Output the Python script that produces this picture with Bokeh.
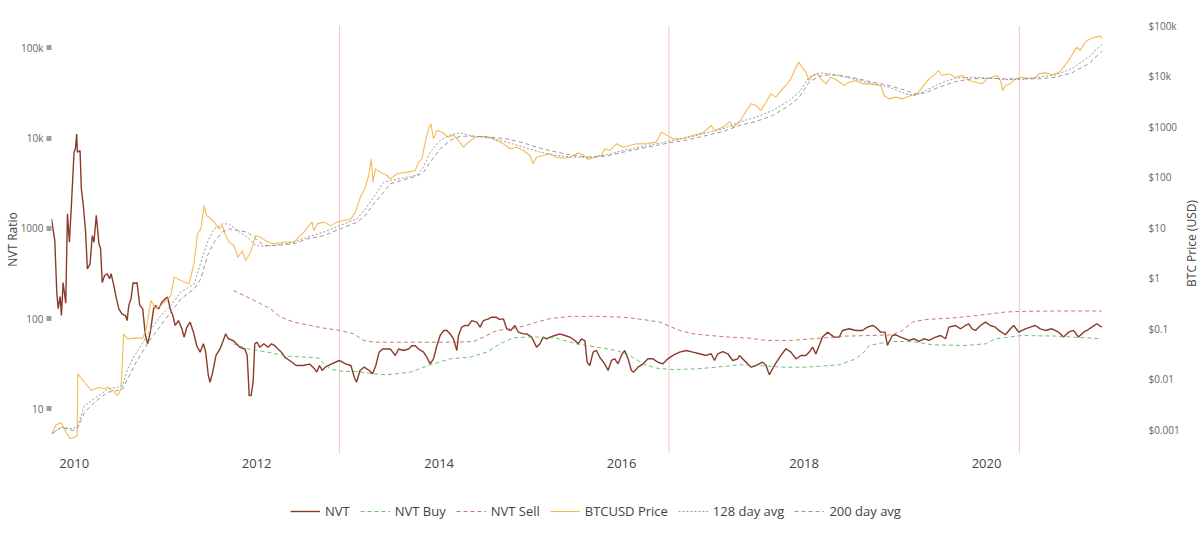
import math
from bokeh.plotting import figure
from bokeh.layouts import column, row
from bokeh.models import (LogAxis, LogScale, Range1d, FixedTicker, Legend, LegendItem, Span, Label)
from bokeh.embed import file_html
from bokeh.resources import INLINE

# ---------------- data (decimal years) ----------------
nvt_year = [2009.751, 2009.787, 2009.809, 2009.824, 2009.846, 2009.860, 2009.878, 2009.907, 2009.926, 2009.947,
            2009.969, 2009.998, 2010.013, 2010.027, 2010.035, 2010.064, 2010.078, 2010.100, 2010.125, 2010.144,
            2010.173, 2010.198, 2010.216, 2010.242, 2010.271, 2010.289, 2010.307, 2010.333, 2010.362, 2010.387,
            2010.405, 2010.427, 2010.463, 2010.489, 2010.525, 2010.562, 2010.580, 2010.598, 2010.623, 2010.645,
            2010.671, 2010.689, 2010.718, 2010.751, 2010.780, 2010.805, 2010.834, 2010.870, 2010.888, 2010.925,
            2010.961, 2010.998, 2011.023, 2011.052, 2011.081, 2011.107, 2011.143, 2011.180, 2011.205, 2011.234,
            2011.271, 2011.307, 2011.343, 2011.380, 2011.416, 2011.441, 2011.470, 2011.489, 2011.518, 2011.554,
            2011.598, 2011.634, 2011.660, 2011.689, 2011.743, 2011.816, 2011.870, 2011.896, 2011.918, 2011.939,
            2011.961, 2011.979, 2012.005, 2012.034, 2012.078, 2012.125, 2012.161, 2012.198, 2012.234, 2012.270,
            2012.307, 2012.361, 2012.434, 2012.507, 2012.579, 2012.634, 2012.659, 2012.688, 2012.718, 2012.754,
            2012.815, 2012.906, 2012.979, 2013.033, 2013.070, 2013.095, 2013.132, 2013.179, 2013.233, 2013.270,
            2013.306, 2013.342, 2013.379,
            2013.465, 2013.519, 2013.556, 2013.610, 2013.665, 2013.701, 2013.738, 2013.774, 2013.829, 2013.865,
            2013.902, 2013.938, 2013.975, 2014.011, 2014.048, 2014.084, 2014.121, 2014.157, 2014.194, 2014.212,
            2014.248, 2014.285, 2014.321, 2014.358, 2014.412, 2014.449, 2014.485, 2014.540, 2014.576, 2014.624,
            2014.660, 2014.704, 2014.740, 2014.784, 2014.831, 2014.868, 2014.923, 2014.959, 2015.014, 2015.068,
            2015.105, 2015.141, 2015.177, 2015.214, 2015.269, 2015.323, 2015.378, 2015.433, 2015.487, 2015.524,
            2015.560, 2015.597, 2015.622, 2015.651, 2015.688, 2015.724, 2015.760, 2015.815, 2015.852, 2015.888,
            2015.925, 2015.961, 2015.997, 2016.034, 2016.070, 2016.107, 2016.132, 2016.180, 2016.235, 2016.289,
            2016.344, 2016.398, 2016.453, 2016.507, 2016.562, 2016.635, 2016.708, 2016.781, 2016.854, 2016.927,
            2016.982, 2017.018, 2017.054, 2017.109, 2017.164, 2017.218, 2017.273,
            2017.291, 2017.419, 2017.474, 2017.546, 2017.583, 2017.619, 2017.674, 2017.747, 2017.801, 2017.856,
            2017.911, 2017.965, 2018.020, 2018.056, 2018.093, 2018.129, 2018.166, 2018.202, 2018.257, 2018.330,
            2018.385, 2018.421, 2018.494, 2018.567, 2018.640, 2018.694, 2018.749, 2018.785, 2018.840, 2018.887,
            2018.913, 2018.968, 2019.004, 2019.059, 2019.150, 2019.205, 2019.259, 2019.314, 2019.368, 2019.441,
            2019.496, 2019.551, 2019.587, 2019.660, 2019.715, 2019.769, 2019.806, 2019.842, 2019.879, 2019.933,
            2019.988, 2020.042, 2020.097, 2020.134, 2020.207, 2020.261, 2020.298, 2020.352, 2020.425, 2020.480,
            2020.534, 2020.589, 2020.644, 2020.717, 2020.790, 2020.844, 2020.899, 2020.954, 2021.009, 2021.063,
            2021.100, 2021.154, 2021.209, 2021.263]
nvt_value = [1270, 730, 195, 129, 175, 108, 250, 148, 1450, 700,
             1790, 6970, 7600, 11100, 6970, 7250, 2750, 1790, 906, 355,
             400, 830, 700, 1390, 675, 593, 250, 300, 313, 276,
             313, 250, 166, 128, 112, 108, 95, 140, 166, 250,
             245, 250, 140, 128, 65, 52.5, 70.6, 128, 140, 128,
             152, 166, 173, 128, 108, 83.8, 95, 77, 62, 80,
             91, 70.6, 50, 42.4, 52.5, 42.4, 23.4, 19.7, 25.5, 39,
             46, 57, 67.9, 59.7, 57, 48, 46, 39, 14, 14,
             19.7, 52.5, 54.7, 48, 52.5, 48, 52.5, 50, 46, 42.4,
             37.3, 34.3, 30.2, 30.2, 31.3, 27.7, 25.5, 30.2, 26.6, 29,
             31.3, 34.3, 31.3, 30.2, 22.4, 19.7, 26.6, 29, 26.6, 24.4,
             30.2, 42.4, 46,
             46.1, 39, 46, 44.3, 46, 50, 50, 46, 42.4, 37.3,
             31.5, 35.8, 50, 64.9, 73.6, 73.6, 67.6, 59.6, 44.3, 64.9,
             80.4, 83.8, 83.8, 95, 91.2, 80.4, 95, 99.3, 103.5, 103.5,
             98, 99.3, 77, 73.6, 83.8, 70.6, 67.6, 67.6, 62.2, 48.2,
             52.5, 62.2, 59.6, 62.2, 64.9, 67.6, 64.9, 62.2, 57.1, 52.5,
             59.6, 57.1, 32.8, 30.2, 42.4, 44.3, 37.3, 31.5, 26.6, 34.3,
             35.8, 31.5, 39, 44.3, 35.8, 26.6, 25.5, 28.9, 31.5, 35.8,
             35.8, 32.8, 31.5, 35.8, 39, 42.4, 44.3, 42.4, 40.7, 39,
             40.7, 34.3, 40.7, 43, 40.7, 34.3, 35.8,
             39, 28.9, 30.2, 32.9, 30.2, 23.8, 30.2, 39, 46.3, 42.5,
             35.8, 39, 39, 42.5, 48.2, 40.6, 50.3, 62.3, 70.7, 62.3,
             62.3, 73.8, 77.0, 73.8, 73.8, 80.3, 83.8, 80.3, 70.7, 70.7,
             50.3, 64.9, 66.1, 62.3, 57.2, 59.7, 55.7, 59.7, 57.2, 62.3,
             64.9, 59.7, 80.3, 83.8, 77.0, 83.8, 87.5, 77.0, 73.8, 83.8,
             91.3, 83.8, 80.3, 73.8, 66.1, 77.0, 83.8, 70.7, 77.0, 80.3,
             83.8, 77.0, 73.8, 77.0, 70.7, 62.3, 70.7, 73.8, 62.3, 70.7,
             73.8, 80.3, 87.5, 80.3]

buy_year = [2011.745, 2011.897, 2012.116, 2012.335, 2012.554, 2012.681, 2012.718, 2012.809, 2012.920, 2013.100,
            2013.283, 2013.428, 2013.683, 2013.902, 2014.121, 2014.339, 2014.522, 2014.667, 2014.813, 2014.959,
            2015.105, 2015.287, 2015.505, 2015.724, 2015.943, 2016.089, 2016.235, 2016.380, 2016.563, 2016.818,
            2017.037, 2017.291, 2017.510, 2017.765, 2018.020, 2018.385, 2018.567, 2018.658, 2018.713, 2018.932,
            2019.187, 2019.405, 2019.769, 2019.988, 2020.097, 2020.389, 2020.753, 2021.263]
buy_value = [52.5, 46.3, 42.5, 38.3, 37.3, 36.6, 32.9, 27.7, 26.1, 25.9,
             24.4, 23.8, 25.5, 30.7, 35.8, 37.3, 42.5, 52.5, 61.1, 62.3,
             62.3, 60.6, 52.5, 48.2, 44.3, 39, 31.5, 28.2, 27.2, 27.7,
             28.9, 30.7, 30.2, 28.9, 28.9, 30.7, 35.8, 42.5, 50.3, 55.7,
             55.7, 51.2, 50.3, 52.5, 59.7, 64.9, 63.9, 59.7]

sell_year = [2011.745, 2011.897, 2012.043, 2012.153, 2012.262, 2012.408, 2012.554, 2012.736, 2012.920, 2013.064,
             2013.173, 2013.283, 2013.428, 2013.829, 2014.194, 2014.376, 2014.485, 2014.631, 2014.777, 2014.923,
             2015.068, 2015.214, 2015.433, 2015.725, 2016.016, 2016.235, 2016.417, 2016.526, 2016.636, 2016.782,
             2016.964, 2017.183, 2017.400, 2017.583, 2017.875, 2018.166, 2018.458, 2018.749, 2018.968, 2019.077,
             2019.187, 2019.332, 2019.624, 2019.915, 2020.207, 2020.425, 2020.790, 2021.263]
sell_value = [205, 173, 146, 128, 103.6, 91.2, 85.3, 78.4, 73.8, 67.8,
              57.2, 54.7, 54.7, 54.7, 54.7, 55.5, 62.3, 73.8, 77, 82.1,
              91.3, 99.6, 105.7, 105.7, 103.6, 97.7, 91.3, 82.1, 73.8, 67.8,
              64.9, 62.3, 60.6, 57.2, 57.2, 60.6, 63.9, 64.9, 66.1, 73.8,
              91.3, 97.7, 101.4, 108.6, 118.2, 120.3, 121.3, 121.3]

price_year = [2009.755, 2009.802, 2009.857, 2009.911, 2009.959, 2010.003, 2010.032, 2010.039, 2010.112, 2010.185,
              2010.276, 2010.331, 2010.367, 2010.422, 2010.476, 2010.513, 2010.542, 2010.586, 2010.659, 2010.750,
              2010.786, 2010.841, 2010.895, 2010.950, 2011.005, 2011.059, 2011.096, 2011.169, 2011.260, 2011.315,
              2011.351, 2011.388, 2011.424, 2011.450, 2011.478, 2011.533, 2011.588, 2011.624, 2011.661, 2011.697,
              2011.752, 2011.796, 2011.843, 2011.879, 2011.934, 2011.989, 2012.043, 2012.116, 2012.189, 2012.298,
              2012.408, 2012.462, 2012.517, 2012.572, 2012.608, 2012.626, 2012.663, 2012.736, 2012.809, 2012.882,
              2012.954, 2013.027, 2013.082, 2013.137, 2013.191, 2013.228, 2013.257, 2013.275, 2013.301, 2013.356,
              2013.428,
              2013.465, 2013.538, 2013.647, 2013.738, 2013.774, 2013.811, 2013.847, 2013.884, 2013.909, 2013.938,
              2013.975, 2014.030, 2014.102, 2014.157, 2014.212, 2014.267, 2014.321, 2014.394, 2014.467, 2014.558,
              2014.631, 2014.704, 2014.777, 2014.850, 2014.923, 2014.995, 2015.032, 2015.068, 2015.141, 2015.214,
              2015.287, 2015.360, 2015.433, 2015.524, 2015.579, 2015.634, 2015.706, 2015.779, 2015.815, 2015.870,
              2015.943, 2016.016, 2016.089, 2016.161, 2016.270, 2016.380, 2016.435, 2016.490, 2016.563, 2016.672,
              2016.782, 2016.891, 2016.982, 2017.019, 2017.110, 2017.183, 2017.220,
              2017.291, 2017.346, 2017.419, 2017.474, 2017.528, 2017.583, 2017.637, 2017.692, 2017.747, 2017.801,
              2017.856, 2017.903, 2017.940, 2017.976, 2018.020, 2018.056, 2018.093, 2018.147, 2018.184, 2018.239,
              2018.293, 2018.366, 2018.439, 2018.494, 2018.567, 2018.640, 2018.731, 2018.840, 2018.876, 2018.931,
              2019.004, 2019.077, 2019.150, 2019.241, 2019.296, 2019.369, 2019.441, 2019.471, 2019.514, 2019.587,
              2019.660, 2019.733, 2019.806, 2019.879, 2019.952, 2020.006, 2020.061, 2020.116, 2020.152, 2020.178,
              2020.207, 2020.261, 2020.316, 2020.389, 2020.462, 2020.534, 2020.571, 2020.644, 2020.717, 2020.790,
              2020.844, 2020.899, 2020.954, 2020.990, 2021.027, 2021.081, 2021.136, 2021.191, 2021.245, 2021.271]
price_value = [0.00083, 0.00125, 0.00137, 0.00089, 0.00066, 0.00071, 0.00077, 0.0127, 0.0087, 0.0060,
               0.0069, 0.0064, 0.0069, 0.0060, 0.00475, 0.0064, 0.079, 0.063, 0.065, 0.065,
               0.092, 0.363, 0.248, 0.287, 0.363, 0.454, 1.05, 0.90, 0.77, 2.08,
               7.57, 9.5, 27.5, 17.4, 16.1, 12.9, 9.5, 11.0, 7.0, 5.2,
               4.4, 2.6, 3.5, 2.24, 3.28, 7.0, 6.5, 5.2, 4.8, 5.2,
               5.2, 6.5, 8.2, 11.0, 12.9, 8.8, 11.9, 12.9, 11.0, 12.9,
               13.9, 14.5, 20.3, 40.3, 63.5, 108, 231, 80, 146, 126,
               108,
               92.7, 117, 126, 136, 199, 231, 494, 908, 1140, 575,
               840, 778, 619, 689, 532, 393, 494, 619, 649, 619,
               532, 458, 365, 393, 337, 269, 184, 249, 269, 290,
               249, 238, 249, 303, 277, 224, 249, 269, 365, 337,
               458, 393, 425, 458, 458, 494, 778, 689, 575, 592,
               670, 755, 1057, 840, 977, 1265, 977,
               1230, 1800, 2838, 2630, 2090, 3060, 4477, 3846, 5210, 6547,
               8870, 14000, 18970, 15100, 12020, 8220, 10330, 11140, 8870, 7060,
               9550, 8220, 6547, 7620, 8220, 7060, 7060, 6547, 4150, 3556,
               3846, 3556, 4018, 4477, 6067, 8870, 11140, 12970, 10330, 11140,
               9550, 10330, 8220, 7620, 7060, 8870, 9550, 10330, 8220, 5210,
               6547, 7060, 8870, 9550, 9120, 9120, 11140, 11640, 10640, 11640,
               15100, 20420, 29900, 37580, 32280, 47200, 54950, 59300, 62100, 56600]

ma128_year = [2009.755, 2009.857, 2009.985, 2010.039, 2010.112, 2010.221, 2010.367, 2010.476, 2010.531, 2010.586,
              2010.659, 2010.732, 2010.841, 2010.950, 2011.059, 2011.169, 2011.315, 2011.388, 2011.461, 2011.533,
              2011.624, 2011.697, 2011.788, 2011.898, 2011.989, 2012.080, 2012.189, 2012.408, 2012.554, 2012.736,
              2012.918, 2013.100, 2013.191, 2013.282, 2013.392,
              2013.465, 2013.647, 2013.756, 2013.829, 2013.902, 2014.011, 2014.121, 2014.230, 2014.376, 2014.558,
              2014.740, 2014.923, 2015.105, 2015.287, 2015.469, 2015.651, 2015.834, 2016.016, 2016.198, 2016.380,
              2016.563, 2016.745, 2016.927, 2017.110,
              2017.291, 2017.474, 2017.655, 2017.838, 2017.947, 2018.056, 2018.166, 2018.275, 2018.385, 2018.567,
              2018.749, 2018.931, 2019.114, 2019.223, 2019.332, 2019.478, 2019.660, 2019.842, 2020.024, 2020.207,
              2020.389, 2020.571, 2020.753, 2020.935, 2021.118, 2021.271]
ma128_value = [0.00083, 0.00112, 0.00104, 0.00121, 0.0030, 0.0041, 0.0064, 0.0070, 0.0075, 0.016,
               0.029, 0.046, 0.099, 0.182, 0.288, 0.53, 0.77, 2.08, 5.18, 9.5,
               11.9, 11.9, 8.8, 6.5, 4.45, 4.3, 4.45, 5.18, 6.5, 8.2,
               11.1, 15.0, 23.7, 40.2, 79.6,
               86, 100, 111, 158, 313, 533, 690, 755, 649, 593,
               494, 394, 314, 269, 249, 249, 277, 338, 394, 458,
               533, 621, 755, 908,
               1233, 1545, 2094, 3304, 4831, 9572, 11670, 11140, 10330, 8610,
               7063, 6067, 4477, 4150, 5212, 7063, 9141, 9572, 9141, 8610,
               8610, 9572, 10640, 14000, 23820, 43750]

ma200_year = list(ma128_year)
ma200_value = [0.00083, 0.00112, 0.00096, 0.0011, 0.0022, 0.0035, 0.0055, 0.0060, 0.0064, 0.0102,
               0.0187, 0.0318, 0.063, 0.116, 0.212, 0.39, 0.615, 0.97, 2.82, 5.18,
               8.2, 9.5, 8.8, 8.2, 6.0, 4.45, 4.45, 4.8, 6.0, 7.0,
               9.5, 12.9, 17.5, 29.7, 50.5,
               74, 93, 105, 126, 199, 365, 533, 649, 649, 621,
               575, 479, 376, 314, 269, 249, 261, 313, 365, 425,
               494, 558, 670, 804,
               1057, 1268, 1667, 2630, 3846, 7621, 10020, 10640, 10330, 9141,
               7621, 6546, 5212, 4477, 4677, 6067, 7852, 8872, 9141, 8872,
               8872, 8872, 9572, 11670, 17580, 32210]

halving_years = [2012.907, 2016.519, 2020.359]

x_ticks = [2010, 2012, 2014, 2016, 2018, 2020]
x_tick_labels = ["2010", "2012", "2014", "2016", "2018", "2020"]
nvt_ticks = [10, 100, 1000, 10000, 100000]
nvt_tick_labels = ["10", "100", "1000", "10k", "100k"]
price_ticks = [0.001, 0.01, 0.1, 1, 10, 100, 1000, 10000, 100000]
price_tick_labels = ["$0.001", "$0.01", "$0.1", "$1", "$10", "$100", "$1000", "$10k", "$100k"]

series_names = ["NVT", "NVT Buy", "NVT Sell", "BTCUSD Price", "128 day avg", "200 day avg"]
price_axis_title = "BTC Price (USD)"

FONT = "Open Sans"

# styles per series (colour, alpha, width, dash)
STYLES = [
    dict(line_color="#8B3A2A", line_alpha=1.0, line_width=1.4, line_dash="solid"),
    dict(line_color="#4CAF50", line_alpha=0.8, line_width=1, line_dash="4 3"),
    dict(line_color="#C0605A", line_alpha=0.85, line_width=1, line_dash="4 3"),
    dict(line_color="#F5B342", line_alpha=0.9, line_width=1.1, line_dash="solid"),
    dict(line_color="#999999", line_alpha=1.0, line_width=1, line_dash="2 2"),
    dict(line_color="#999999", line_alpha=1.0, line_width=1, line_dash="4 3"),
]

p = figure(width=1182, height=490, y_axis_type="log",
           x_range=Range1d(2009.751, 2021.271), y_range=Range1d(3.197, 176600),
           output_backend="svg", toolbar_location=None,
           min_border_left=50, min_border_right=78, min_border_top=25, min_border_bottom=37)
p.extra_y_ranges = {"price": Range1d(0.000338, 100900)}
p.extra_y_scales = {"price": LogScale()}
p.outline_line_color = None
p.xgrid.grid_line_color = None
p.ygrid.grid_line_color = None
p.background_fill_color = "white"

for hy in halving_years:
    p.add_layout(Span(location=hy, dimension="height", line_color="#F2C6C6", line_width=1, level="underlay"))

p.line(nvt_year, nvt_value, **STYLES[0])
p.line(buy_year, buy_value, **STYLES[1])
p.line(sell_year, sell_value, **STYLES[2])
p.line(price_year, price_value, y_range_name="price", **STYLES[3])
p.line(ma128_year, ma128_value, y_range_name="price", **STYLES[4])
p.line(ma200_year, ma200_value, y_range_name="price", **STYLES[5])

# x axis
xa = p.xaxis[0]
xa.ticker = FixedTicker(ticks=x_ticks)
xa.major_label_overrides = dict(zip(x_ticks, x_tick_labels))
xa.axis_line_color = None
xa.major_tick_line_color = None
xa.minor_tick_line_color = None
xa.major_tick_out = 0
xa.major_tick_in = 0
xa.major_label_standoff = 5
xa.major_label_text_font = FONT
xa.major_label_text_font_size = "13px"
xa.major_label_text_color = "#444444"

# left axis
ya = p.yaxis[0]
ya.ticker = FixedTicker(ticks=nvt_ticks)
ya.major_label_overrides = dict(zip(nvt_ticks, nvt_tick_labels))
ya.axis_line_color = None
ya.minor_tick_line_color = None
ya.major_tick_line_color = "#A0A0A0"
ya.major_tick_line_width = 5
ya.major_tick_out = 5
ya.major_tick_in = 0
ya.major_label_standoff = 3
ya.major_label_text_font = FONT
ya.major_label_text_font_size = "10px"
ya.major_label_text_color = "#666666"
ya.axis_label = "NVT Ratio"
ya.axis_label_text_font = FONT
ya.axis_label_text_font_size = "12px"
ya.axis_label_text_font_style = "normal"
ya.axis_label_text_color = "#444444"
ya.axis_label_standoff = -3

# right axis (tick labels only; its title sits in the narrow strip to the right)
ra = LogAxis(y_range_name="price", ticker=FixedTicker(ticks=price_ticks))
ra.major_label_overrides = dict(zip(price_ticks, price_tick_labels))
ra.axis_line_color = None
ra.major_tick_line_color = None
ra.minor_tick_line_color = None
ra.major_tick_out = 0
ra.major_tick_in = 0
ra.major_label_standoff = 46
ra.major_label_text_font = FONT
ra.major_label_text_font_size = "10px"
ra.major_label_text_color = "#666666"
p.add_layout(ra, "right")

# legend strip below the chart (one-point keys, styled like the chart's series)
q = figure(width=1182, height=47, x_range=Range1d(0, 1), y_range=Range1d(0, 1),
           output_backend="svg", toolbar_location=None, min_border=0)
q.axis.visible = False
q.xgrid.grid_line_color = None
q.ygrid.grid_line_color = None
q.outline_line_color = None
items = []
for name, st in zip(series_names, STYLES):
    r = q.line([0.0], [0.0], **st)
    items.append(LegendItem(label=name, renderers=[r]))
legend = Legend(items=items, orientation="horizontal", location=(239, 16))
legend.margin = 0
legend.padding = 0
legend.spacing = 10
legend.glyph_width = 30
legend.glyph_height = 20
legend.label_height = 20
legend.label_standoff = 5
legend.label_text_font = FONT
legend.label_text_font_size = "13px"
legend.label_text_color = "#444444"
legend.border_line_alpha = 0
legend.background_fill_alpha = 0
q.add_layout(legend, "center")

# narrow strip on the right holding the price axis title (reads bottom to top)
t = figure(width=18, height=537, x_range=Range1d(0, 18), y_range=Range1d(0, 537),
           output_backend="svg", toolbar_location=None, min_border=0)
t.axis.visible = False
t.xgrid.grid_line_color = None
t.ygrid.grid_line_color = None
t.outline_line_color = None
t.add_layout(Label(x=9, y=294, text=price_axis_title, angle=math.pi / 2,
                   text_align="center", text_baseline="middle",
                   text_font=FONT, text_font_size="12px", text_color="#444444"))

layout = row(column(p, q, spacing=0), t, spacing=0)
open("out.html", "w").write(file_html(layout, INLINE))
